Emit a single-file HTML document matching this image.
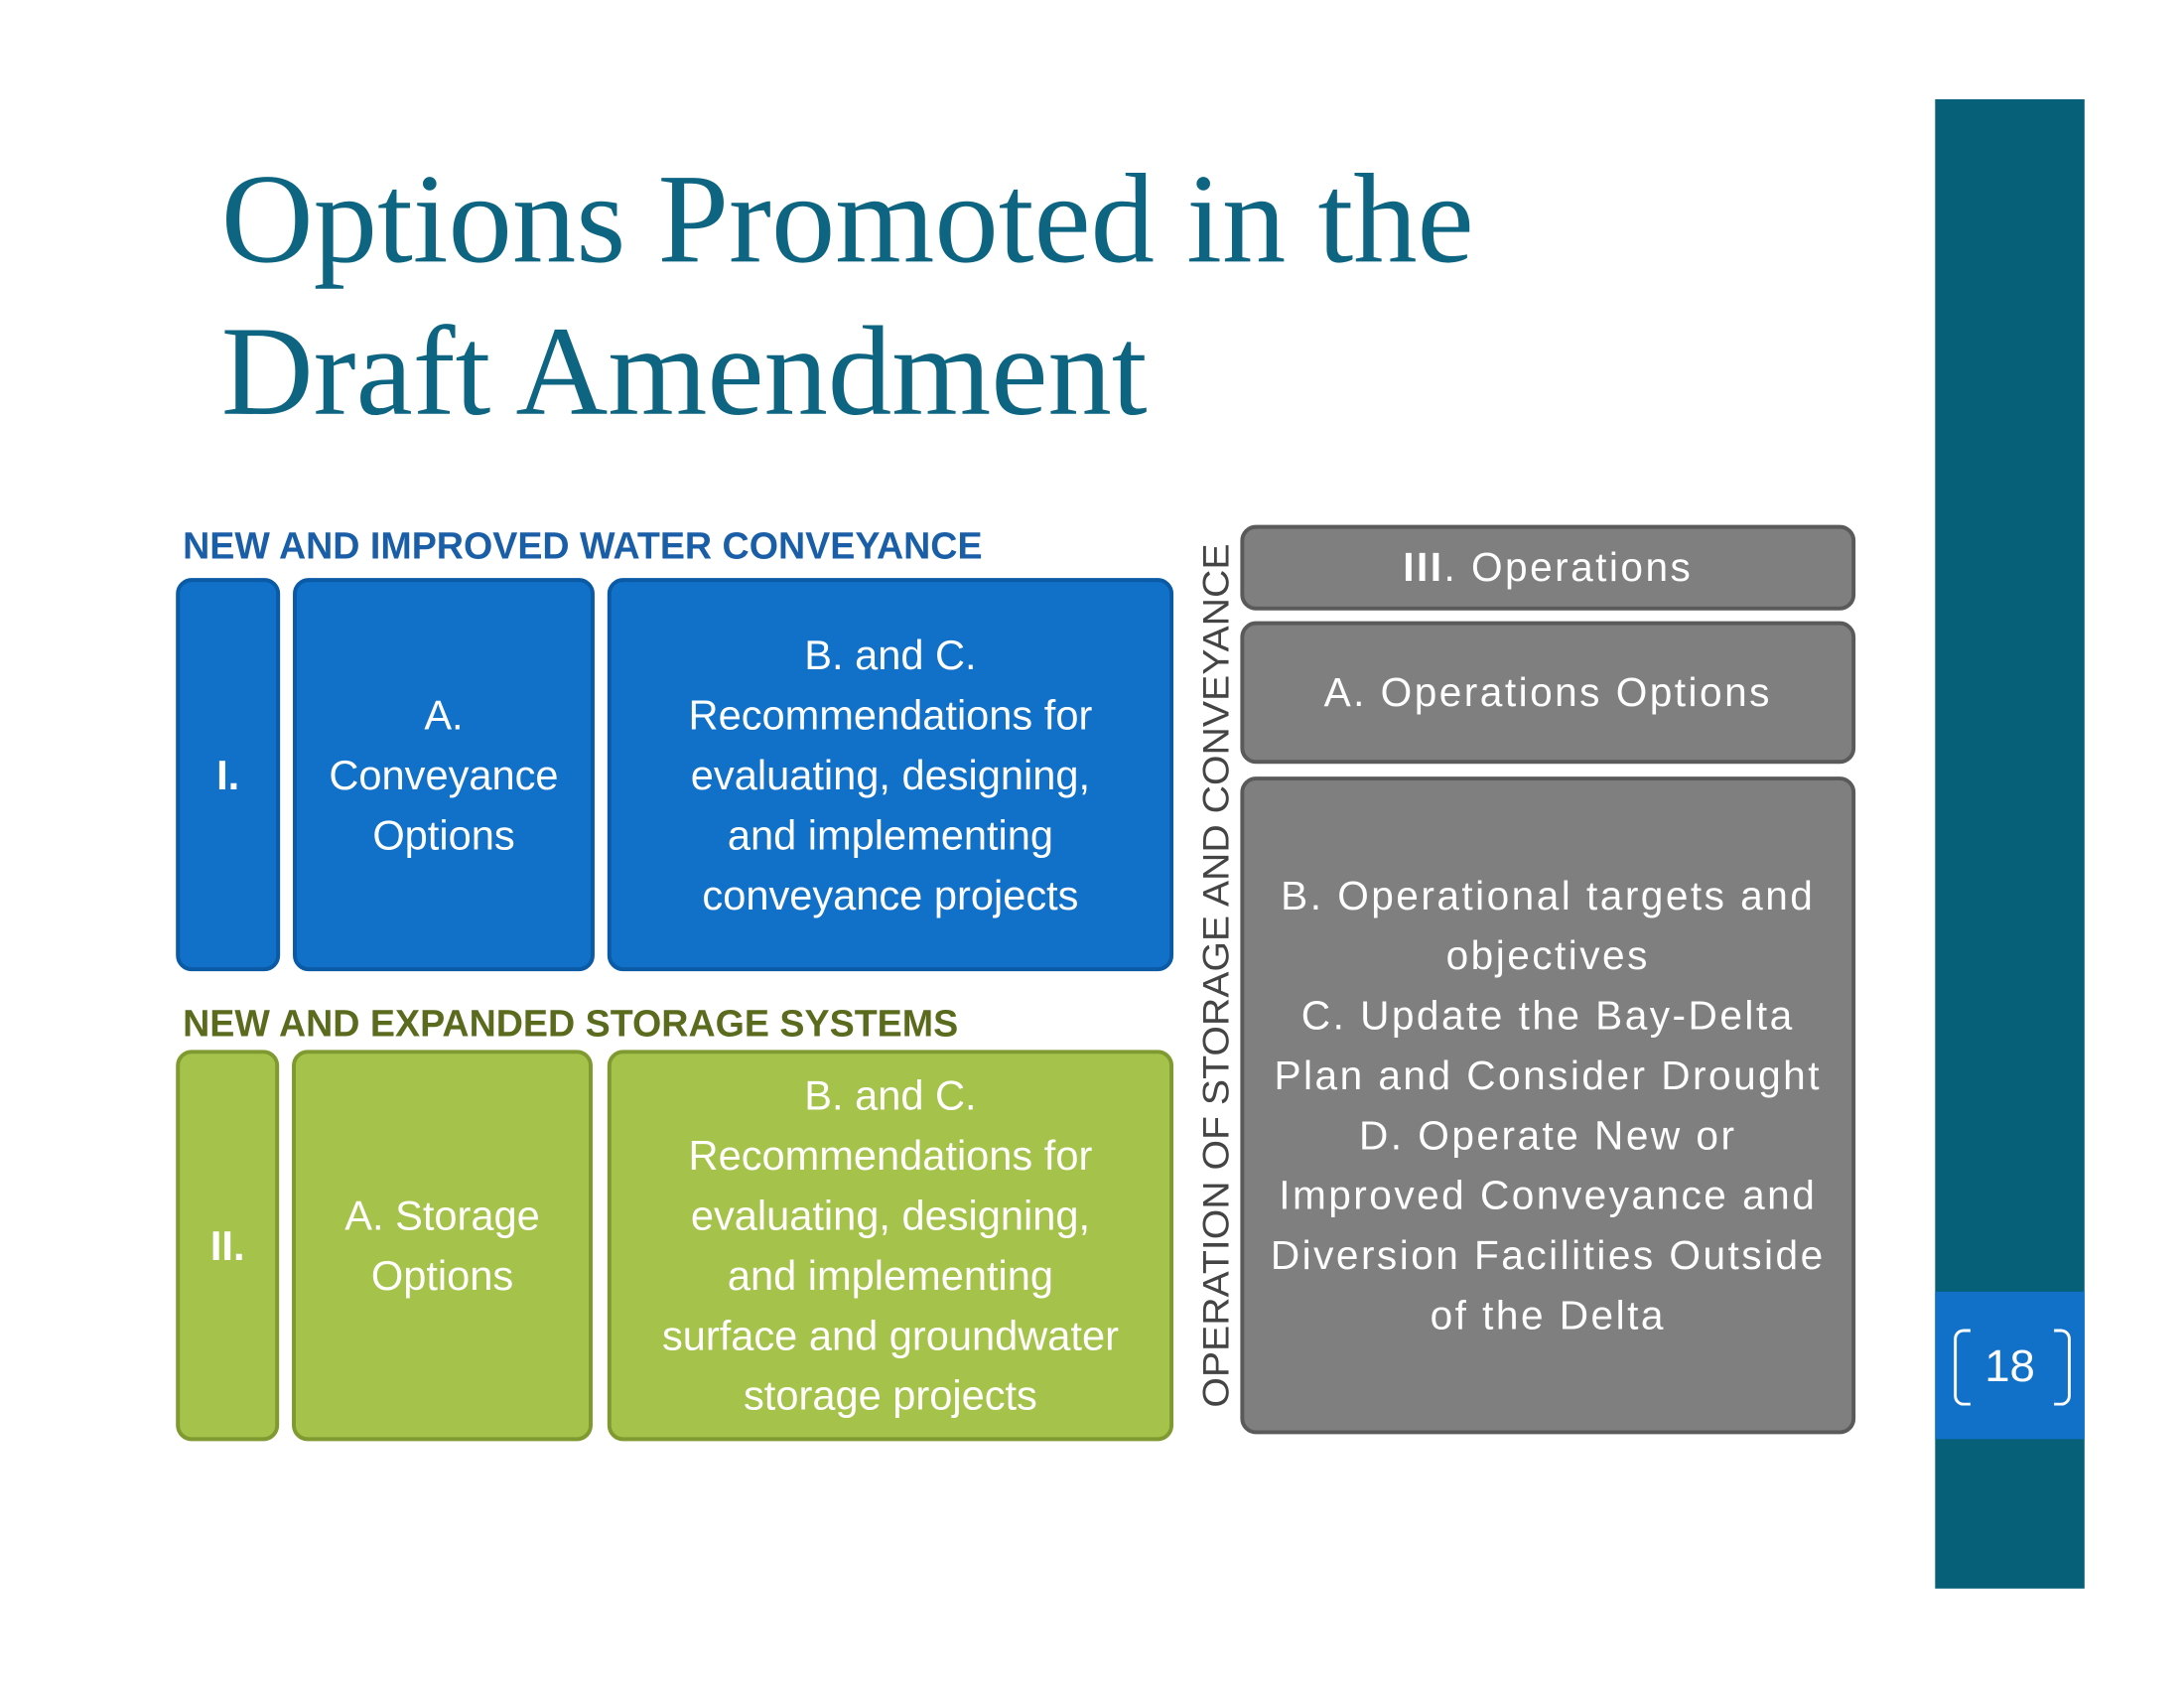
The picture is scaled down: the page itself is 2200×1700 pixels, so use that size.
<!DOCTYPE html>
<html><head><meta charset="utf-8"><style>
body{margin:0;width:2200px;height:1700px;background:#fff;position:relative;overflow:hidden;font-family:"Liberation Sans",sans-serif}
#w{position:absolute;left:0;top:0;width:2200px;height:1700px;transform:scale(0.99);transform-origin:0 0}
.t{position:absolute;left:225px;color:#0e6582;font-family:"Liberation Serif",serif;font-size:130px;line-height:1;white-space:nowrap}
.h{position:absolute;left:186px;font-size:38px;font-weight:bold;white-space:nowrap;line-height:1}
.b{position:absolute;box-sizing:border-box;border-radius:16px;border:4px solid;color:#fff;display:flex;align-items:center;justify-content:center;text-align:center;font-size:42px;line-height:61px}
.bl{background:#1170c8;border-color:#0b5aa6}
.gr{background:#a5c34a;border-color:#7f9a30}
.gy{background:#7f7f7f;border-color:#5a5a5a;font-size:41px;letter-spacing:2.5px}
</style></head><body><div id="w">
<div class="t" style="top:158px">Options Promoted in the</div>
<div class="t" style="top:313px">Draft Amendment</div>

<div class="h" style="top:537px;color:#1a5ea8">NEW AND IMPROVED WATER CONVEYANCE</div>
<div class="b bl" style="left:179px;top:588px;width:106px;height:400px;font-weight:bold">I.</div>
<div class="b bl" style="left:298px;top:588px;width:307px;height:400px">A.<br>Conveyance<br>Options</div>
<div class="b bl" style="left:618px;top:588px;width:576px;height:400px">B. and C.<br>Recommendations for<br>evaluating, designing,<br>and implementing<br>conveyance projects</div>

<div class="h" style="top:1023px;color:#5a6b1e">NEW AND EXPANDED STORAGE SYSTEMS</div>
<div class="b gr" style="left:179px;top:1068px;width:105px;height:398px;font-weight:bold">II.</div>
<div class="b gr" style="left:297px;top:1068px;width:306px;height:398px">A. Storage<br>Options</div>
<div class="b gr" style="left:618px;top:1068px;width:576px;height:398px">B. and C.<br>Recommendations for<br>evaluating, designing,<br>and implementing<br>surface and groundwater<br>storage projects</div>

<svg style="position:absolute;left:0;top:0" width="2200" height="1700">
<text transform="translate(1250,1432) rotate(-90)" font-family="Liberation Sans,sans-serif" font-size="37" fill="#444" textLength="879" lengthAdjust="spacingAndGlyphs">OPERATION OF STORAGE AND CONVEYANCE</text>
</svg>

<div class="b gy" style="left:1262px;top:534px;width:626px;height:87px"><span><b>III</b>. Operations</span></div>
<div class="b gy" style="left:1262px;top:632px;width:626px;height:145px">A. Operations Options</div>
<div class="b gy" style="left:1262px;top:790px;width:626px;height:669px">B. Operational targets and<br>objectives<br>C. Update the Bay-Delta<br>Plan and Consider Drought<br>D. Operate New or<br>Improved Conveyance and<br>Diversion Facilities Outside<br>of the Delta</div>

<div style="position:absolute;left:1969px;top:101px;width:152px;height:1515px;background:#056078"></div>
<div style="position:absolute;left:1969px;top:1314px;width:152px;height:150px;background:#1170c8"></div>
<div style="position:absolute;left:1988px;top:1352px;width:14px;height:72px;border:3px solid #fff;border-right:none;border-radius:10px 0 0 10px"></div>
<div style="position:absolute;left:2090px;top:1352px;width:14px;height:72px;border:3px solid #fff;border-left:none;border-radius:0 10px 10px 0"></div>
<div style="position:absolute;left:1969px;top:1364px;width:152px;text-align:center;color:#fff;font-size:46px;line-height:50px">18</div>
</div></body></html>
